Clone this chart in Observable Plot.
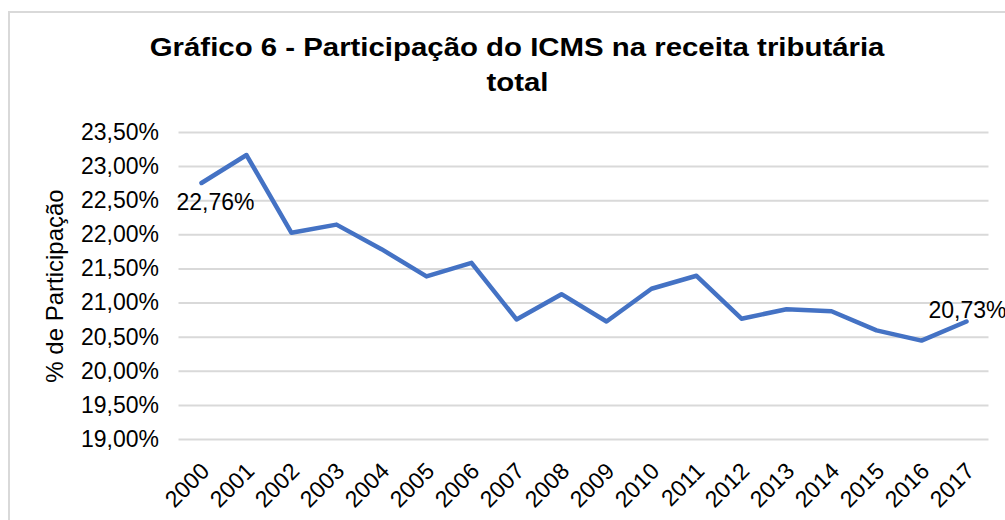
<!DOCTYPE html>
<html>
<head>
<meta charset="utf-8">
<script src="https://cdn.jsdelivr.net/npm/d3@7"></script>
<script src="https://cdn.jsdelivr.net/npm/@observablehq/plot@0.6"></script>
<style>
  html, body { margin: 0; padding: 0; background: #fff; overflow: hidden; }
  #wrap { position: relative; width: 1005px; height: 520px; font-family: "Liberation Sans", Arial, sans-serif; }
  #frame { position: absolute; left: 8px; top: 11px; width: 1100px; height: 600px; border-left: 2px solid #d9d9d9; border-top: 2px solid #d9d9d9; box-sizing: border-box; }
  #title { position: relative; height: 110px; box-sizing: border-box; padding-top: 30px; text-align: center; font-weight: bold; font-size: 26px; line-height: 35px; color: #000; padding-left: 30px; }
  #title span { display: inline-block; transform: scaleX(1.13); transform-origin: center; }
  #chart { position: relative; }
</style>
</head>
<body>
<div id="wrap">
  <div id="frame"></div>
  <div id="title"><span>Gráfico 6 - Participação do ICMS na receita tributária</span><br><span>total</span></div>
  <div id="chart"></div>
</div>
<script>
const years = ["2000","2001","2002","2003","2004","2005","2006","2007","2008","2009","2010","2011","2012","2013","2014","2015","2016","2017"];
const shares = [22.76, 23.17, 22.03, 22.15, 21.79, 21.39, 21.59, 20.76, 21.13, 20.73, 21.21, 21.40, 20.77, 20.91, 20.88, 20.60, 20.45, 20.73];
const yTicks = [19, 19.5, 20, 20.5, 21, 21.5, 22, 22.5, 23, 23.5];
const labeledYears = ["2000", "2017"];

const data = years.map((y, i) => ({year: y, v: shares[i]}));
const fmt = v => v.toFixed(2).replace(".", ",") + "%";

const chart = Plot.plot({
  width: 1005,
  height: 410,
  marginTop: 22,
  marginBottom: 81,
  marginLeft: 178.5,
  marginRight: 16.5,
  style: {fontFamily: '"Liberation Sans", Arial, sans-serif', fontSize: "23px", color: "#000", background: "transparent", overflow: "visible"},
  x: {type: "point", domain: years, padding: 0.5, label: null},
  y: {domain: [19, 23.5], ticks: yTicks, tickFormat: fmt, label: null},
  marks: [
    Plot.gridY(yTicks, {stroke: "#d9d9d9", strokeOpacity: 1, strokeWidth: 2}),
    Plot.axisY(yTicks, {tickSize: 0, tickPadding: 20, tickFormat: fmt, fontSize: 23, label: null}),
    Plot.axisX({tickSize: 0, tickRotate: -45, fontSize: 23, textAnchor: "end", dx: 4, dy: 16, label: null}),
    Plot.line(data, {x: "year", y: "v", stroke: "#4472C4", strokeWidth: 4.5, strokeLinejoin: "round", strokeLinecap: "round"}),
    Plot.text(data.filter(d => d.year === labeledYears[0]), {x: "year", y: "v", text: d => fmt(d.v), dx: 14, dy: 20, fontSize: 23, fill: "#000"}),
    Plot.text(data.filter(d => d.year === labeledYears[1]), {x: "year", y: "v", text: d => fmt(d.v), textAnchor: "start", dx: -38, dy: -11, fontSize: 23, fill: "#000"}),
    Plot.text(["% de Participação"], {frameAnchor: "left", text: d => d, rotate: -90, textAnchor: "middle", dx: -124, dy: 0, fontSize: 24, fill: "#000"})
  ]
});
document.getElementById("chart").appendChild(chart);
</script>
</body>
</html>
